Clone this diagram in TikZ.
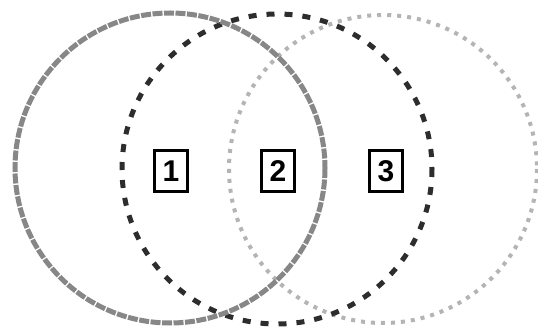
\documentclass[tikz,border=0pt]{standalone}
\usepackage{fontspec}
\setmainfont{Liberation Sans}
\begin{document}
\begin{tikzpicture}[x=1pt,y=-1pt,
  setA/.style={draw={rgb,255:red,135;green,135;blue,135}, line width=5pt, dash pattern=on 10pt off 1.5pt},
  setB/.style={draw={rgb,255:red,45;green,45;blue,45}, line width=5pt, dash pattern=on 8pt off 10pt},
  setC/.style={draw={rgb,255:red,180;green,180;blue,180}, line width=4pt, dash pattern=on 4pt off 6pt},
  lab/.style={draw=black, line width=3.5pt, minimum width=33pt, minimum height=41pt, inner sep=0pt, font=\fontsize{30}{30}\selectfont\bfseries}]
\useasboundingbox (0,0) rectangle (538,331);
\draw[setC] (383,169) circle (154);
\draw[setB] (277,169) circle (155);
\draw[setA] (170,168) circle (155);
\node[lab] (n1) at (171,171) {1};
\node[lab] (n2) at (278,171) {2};
\node[lab] (n3) at (386,171) {3};
\end{tikzpicture}
\end{document}
